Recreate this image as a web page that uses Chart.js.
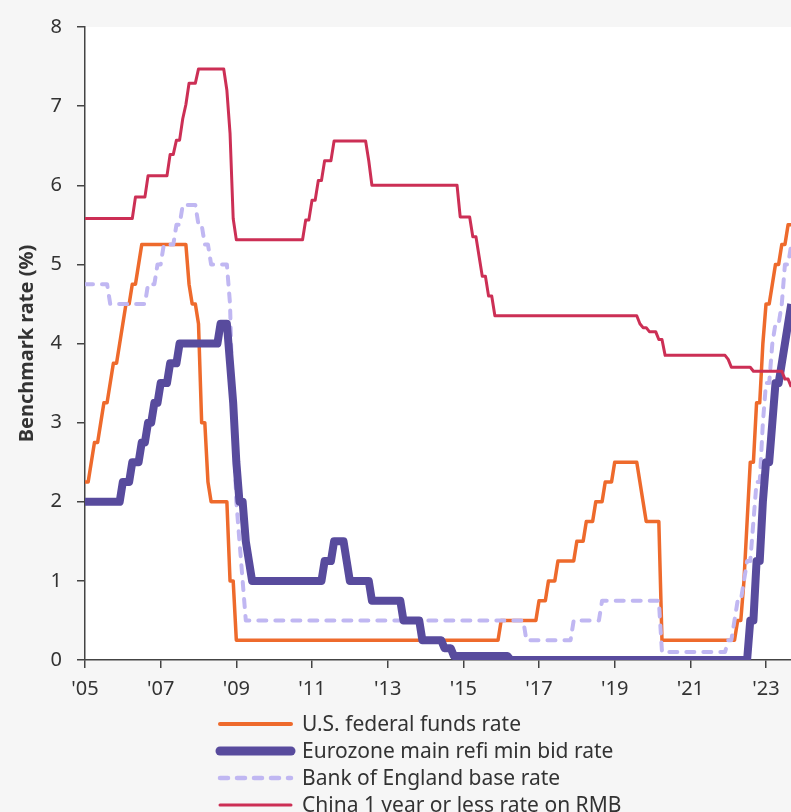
<!DOCTYPE html>
<html>
<head>
<meta charset="utf-8">
<script src="https://cdn.jsdelivr.net/npm/chart.js@4.4.1/dist/chart.umd.min.js"></script>
<style>
  html, body { margin: 0; padding: 0; background: #f6f6f6; }
  #wrap { width: 791px; height: 812px; position: relative; }
</style>
</head>
<body>
<div id="wrap"><canvas id="c"></canvas></div>
<script>
// Month-end observations, Dec 2004 through Sep 2023 (one value per month)
const firstMonth = { year: 2004, month: 12 };

const seriesLabels = [
  'U.S. federal funds rate',
  'Eurozone main refi min bid rate',
  'Bank of England base rate',
  'China 1 year or less rate on RMB'
];

const tickYears = [2005, 2007, 2009, 2011, 2013, 2015, 2017, 2019, 2021, 2023];
const yTicks = [0, 1, 2, 3, 4, 5, 6, 7, 8];

const usFedFunds = [
  2.25,
  2.25, 2.5, 2.75, 2.75, 3.0, 3.25, 3.25, 3.5, 3.75, 3.75, 4.0, 4.25,          // 2005
  4.5, 4.5, 4.75, 4.75, 5.0, 5.25, 5.25, 5.25, 5.25, 5.25, 5.25, 5.25,         // 2006
  5.25, 5.25, 5.25, 5.25, 5.25, 5.25, 5.25, 5.25, 4.75, 4.5, 4.5, 4.25,        // 2007
  3.0, 3.0, 2.25, 2.0, 2.0, 2.0, 2.0, 2.0, 2.0, 1.0, 1.0, 0.25,                // 2008
  0.25, 0.25, 0.25, 0.25, 0.25, 0.25, 0.25, 0.25, 0.25, 0.25, 0.25, 0.25,      // 2009
  0.25, 0.25, 0.25, 0.25, 0.25, 0.25, 0.25, 0.25, 0.25, 0.25, 0.25, 0.25,      // 2010
  0.25, 0.25, 0.25, 0.25, 0.25, 0.25, 0.25, 0.25, 0.25, 0.25, 0.25, 0.25,      // 2011
  0.25, 0.25, 0.25, 0.25, 0.25, 0.25, 0.25, 0.25, 0.25, 0.25, 0.25, 0.25,      // 2012
  0.25, 0.25, 0.25, 0.25, 0.25, 0.25, 0.25, 0.25, 0.25, 0.25, 0.25, 0.25,      // 2013
  0.25, 0.25, 0.25, 0.25, 0.25, 0.25, 0.25, 0.25, 0.25, 0.25, 0.25, 0.25,      // 2014
  0.25, 0.25, 0.25, 0.25, 0.25, 0.25, 0.25, 0.25, 0.25, 0.25, 0.25, 0.5,       // 2015
  0.5, 0.5, 0.5, 0.5, 0.5, 0.5, 0.5, 0.5, 0.5, 0.5, 0.5, 0.75,                 // 2016
  0.75, 0.75, 1.0, 1.0, 1.0, 1.25, 1.25, 1.25, 1.25, 1.25, 1.25, 1.5,          // 2017
  1.5, 1.5, 1.75, 1.75, 1.75, 2.0, 2.0, 2.0, 2.25, 2.25, 2.25, 2.5,            // 2018
  2.5, 2.5, 2.5, 2.5, 2.5, 2.5, 2.5, 2.25, 2.0, 1.75, 1.75, 1.75,              // 2019
  1.75, 1.75, 0.25, 0.25, 0.25, 0.25, 0.25, 0.25, 0.25, 0.25, 0.25, 0.25,      // 2020
  0.25, 0.25, 0.25, 0.25, 0.25, 0.25, 0.25, 0.25, 0.25, 0.25, 0.25, 0.25,      // 2021
  0.25, 0.25, 0.5, 0.5, 1.0, 1.75, 2.5, 2.5, 3.25, 3.25, 4.0, 4.5,             // 2022
  4.5, 4.75, 5.0, 5.0, 5.25, 5.25, 5.5, 5.5, 5.5                               // 2023
];

const eurozoneRefi = [
  2.0,
  2.0, 2.0, 2.0, 2.0, 2.0, 2.0, 2.0, 2.0, 2.0, 2.0, 2.0, 2.25,                 // 2005
  2.25, 2.25, 2.5, 2.5, 2.5, 2.75, 2.75, 3.0, 3.0, 3.25, 3.25, 3.5,            // 2006
  3.5, 3.5, 3.75, 3.75, 3.75, 4.0, 4.0, 4.0, 4.0, 4.0, 4.0, 4.0,               // 2007
  4.0, 4.0, 4.0, 4.0, 4.0, 4.0, 4.25, 4.25, 4.25, 3.75, 3.25, 2.5,             // 2008
  2.0, 2.0, 1.5, 1.25, 1.0, 1.0, 1.0, 1.0, 1.0, 1.0, 1.0, 1.0,                 // 2009
  1.0, 1.0, 1.0, 1.0, 1.0, 1.0, 1.0, 1.0, 1.0, 1.0, 1.0, 1.0,                  // 2010
  1.0, 1.0, 1.0, 1.25, 1.25, 1.25, 1.5, 1.5, 1.5, 1.5, 1.25, 1.0,              // 2011
  1.0, 1.0, 1.0, 1.0, 1.0, 1.0, 0.75, 0.75, 0.75, 0.75, 0.75, 0.75,            // 2012
  0.75, 0.75, 0.75, 0.75, 0.5, 0.5, 0.5, 0.5, 0.5, 0.5, 0.25, 0.25,            // 2013
  0.25, 0.25, 0.25, 0.25, 0.25, 0.15, 0.15, 0.15, 0.05, 0.05, 0.05, 0.05,      // 2014
  0.05, 0.05, 0.05, 0.05, 0.05, 0.05, 0.05, 0.05, 0.05, 0.05, 0.05, 0.05,      // 2015
  0.05, 0.05, 0, 0, 0, 0, 0, 0, 0, 0, 0, 0,                                    // 2016
  0, 0, 0, 0, 0, 0, 0, 0, 0, 0, 0, 0,                                          // 2017
  0, 0, 0, 0, 0, 0, 0, 0, 0, 0, 0, 0,                                          // 2018
  0, 0, 0, 0, 0, 0, 0, 0, 0, 0, 0, 0,                                          // 2019
  0, 0, 0, 0, 0, 0, 0, 0, 0, 0, 0, 0,                                          // 2020
  0, 0, 0, 0, 0, 0, 0, 0, 0, 0, 0, 0,                                          // 2021
  0, 0, 0, 0, 0, 0, 0.5, 0.5, 1.25, 1.25, 2.0, 2.5,                            // 2022
  2.5, 3.0, 3.5, 3.5, 3.75, 4.0, 4.25, 4.5, 4.5                                // 2023
];

const boeBase = [
  4.75,
  4.75, 4.75, 4.75, 4.75, 4.75, 4.75, 4.75, 4.5, 4.5, 4.5, 4.5, 4.5,           // 2005
  4.5, 4.5, 4.5, 4.5, 4.5, 4.5, 4.5, 4.75, 4.75, 4.75, 5.0, 5.0,               // 2006
  5.25, 5.25, 5.25, 5.25, 5.5, 5.5, 5.75, 5.75, 5.75, 5.75, 5.75, 5.5,         // 2007
  5.5, 5.25, 5.25, 5.0, 5.0, 5.0, 5.0, 5.0, 5.0, 4.5, 3.0, 2.0,                // 2008
  1.5, 1.0, 0.5, 0.5, 0.5, 0.5, 0.5, 0.5, 0.5, 0.5, 0.5, 0.5,                  // 2009
  0.5, 0.5, 0.5, 0.5, 0.5, 0.5, 0.5, 0.5, 0.5, 0.5, 0.5, 0.5,                  // 2010
  0.5, 0.5, 0.5, 0.5, 0.5, 0.5, 0.5, 0.5, 0.5, 0.5, 0.5, 0.5,                  // 2011
  0.5, 0.5, 0.5, 0.5, 0.5, 0.5, 0.5, 0.5, 0.5, 0.5, 0.5, 0.5,                  // 2012
  0.5, 0.5, 0.5, 0.5, 0.5, 0.5, 0.5, 0.5, 0.5, 0.5, 0.5, 0.5,                  // 2013
  0.5, 0.5, 0.5, 0.5, 0.5, 0.5, 0.5, 0.5, 0.5, 0.5, 0.5, 0.5,                  // 2014
  0.5, 0.5, 0.5, 0.5, 0.5, 0.5, 0.5, 0.5, 0.5, 0.5, 0.5, 0.5,                  // 2015
  0.5, 0.5, 0.5, 0.5, 0.5, 0.5, 0.5, 0.25, 0.25, 0.25, 0.25, 0.25,             // 2016
  0.25, 0.25, 0.25, 0.25, 0.25, 0.25, 0.25, 0.25, 0.25, 0.25, 0.5, 0.5,        // 2017
  0.5, 0.5, 0.5, 0.5, 0.5, 0.5, 0.5, 0.75, 0.75, 0.75, 0.75, 0.75,             // 2018
  0.75, 0.75, 0.75, 0.75, 0.75, 0.75, 0.75, 0.75, 0.75, 0.75, 0.75, 0.75,      // 2019
  0.75, 0.75, 0.1, 0.1, 0.1, 0.1, 0.1, 0.1, 0.1, 0.1, 0.1, 0.1,                // 2020
  0.1, 0.1, 0.1, 0.1, 0.1, 0.1, 0.1, 0.1, 0.1, 0.1, 0.1, 0.25,                 // 2021
  0.25, 0.5, 0.75, 0.75, 1.0, 1.25, 1.25, 1.75, 2.25, 2.25, 3.0, 3.5,          // 2022
  3.5, 4.0, 4.25, 4.25, 4.5, 5.0, 5.0, 5.25, 5.25                              // 2023
];

const chinaOneYear = [
  5.58,
  5.58, 5.58, 5.58, 5.58, 5.58, 5.58, 5.58, 5.58, 5.58, 5.58, 5.58, 5.58,      // 2005
  5.58, 5.58, 5.58, 5.85, 5.85, 5.85, 5.85, 6.12, 6.12, 6.12, 6.12, 6.12,      // 2006
  6.12, 6.12, 6.39, 6.39, 6.57, 6.57, 6.84, 7.02, 7.29, 7.29, 7.29, 7.47,      // 2007
  7.47, 7.47, 7.47, 7.47, 7.47, 7.47, 7.47, 7.47, 7.20, 6.66, 5.58, 5.31,      // 2008
  5.31, 5.31, 5.31, 5.31, 5.31, 5.31, 5.31, 5.31, 5.31, 5.31, 5.31, 5.31,      // 2009
  5.31, 5.31, 5.31, 5.31, 5.31, 5.31, 5.31, 5.31, 5.31, 5.56, 5.56, 5.81,      // 2010
  5.81, 6.06, 6.06, 6.31, 6.31, 6.31, 6.56, 6.56, 6.56, 6.56, 6.56, 6.56,      // 2011
  6.56, 6.56, 6.56, 6.56, 6.56, 6.31, 6.00, 6.00, 6.00, 6.00, 6.00, 6.00,      // 2012
  6.00, 6.00, 6.00, 6.00, 6.00, 6.00, 6.00, 6.00, 6.00, 6.00, 6.00, 6.00,      // 2013
  6.00, 6.00, 6.00, 6.00, 6.00, 6.00, 6.00, 6.00, 6.00, 6.00, 5.60, 5.60,      // 2014
  5.60, 5.60, 5.35, 5.35, 5.10, 4.85, 4.85, 4.60, 4.60, 4.35, 4.35, 4.35,      // 2015
  4.35, 4.35, 4.35, 4.35, 4.35, 4.35, 4.35, 4.35, 4.35, 4.35, 4.35, 4.35,      // 2016
  4.35, 4.35, 4.35, 4.35, 4.35, 4.35, 4.35, 4.35, 4.35, 4.35, 4.35, 4.35,      // 2017
  4.35, 4.35, 4.35, 4.35, 4.35, 4.35, 4.35, 4.35, 4.35, 4.35, 4.35, 4.35,      // 2018
  4.35, 4.35, 4.35, 4.35, 4.35, 4.35, 4.35, 4.25, 4.20, 4.20, 4.15, 4.15,      // 2019
  4.15, 4.05, 4.05, 3.85, 3.85, 3.85, 3.85, 3.85, 3.85, 3.85, 3.85, 3.85,      // 2020
  3.85, 3.85, 3.85, 3.85, 3.85, 3.85, 3.85, 3.85, 3.85, 3.85, 3.85, 3.80,      // 2021
  3.70, 3.70, 3.70, 3.70, 3.70, 3.70, 3.70, 3.65, 3.65, 3.65, 3.65, 3.65,      // 2022
  3.65, 3.65, 3.65, 3.65, 3.65, 3.55, 3.55, 3.45, 3.45                         // 2023
];

// time axis: month-end dates as decimal years (Dec 2004 month-end = 2005.0)
const monthDates = usFedFunds.map((_, i) => firstMonth.year + (firstMonth.month + i) / 12);
const toPoints = vals => vals.map((v, i) => ({ x: monthDates[i], y: v }));

const FONT = '"Noto Sans", "DejaVu Sans", sans-serif';
const TEXT = '#333333';
const AXIS = '#444444';

const bgPlugin = {
  id: 'bg',
  beforeDraw(chart) {
    const { ctx, chartArea: a } = chart;
    ctx.save();
    ctx.fillStyle = '#f6f6f6';
    ctx.fillRect(0, 0, chart.width, chart.height);
    ctx.fillStyle = '#ffffff';
    ctx.fillRect(a.left, a.top, a.right - a.left, a.bottom - a.top);
    ctx.restore();
  }
};

const legendPlugin = {
  id: 'stackLegend',
  afterDraw(chart) {
    const { ctx } = chart;
    const order = [0, 1, 2, 3];
    const x1 = 220, x2 = 291, tx = 302;
    const y0 = chart.chartArea.bottom + 64, dy = 27;
    ctx.save();
    order.forEach((di, row) => {
      const ds = chart.data.datasets[di];
      const y = y0 + row * dy;
      ctx.beginPath();
      ctx.strokeStyle = ds.borderColor;
      ctx.lineWidth = ds.legendWidth;
      ctx.lineCap = 'round';
      ctx.setLineDash(ds.borderDash || []);
      ctx.moveTo(x1, y);
      ctx.lineTo(x2, y);
      ctx.stroke();
      ctx.setLineDash([]);
      ctx.fillStyle = TEXT;
      ctx.font = '21px ' + FONT;
      ctx.textAlign = 'left';
      ctx.textBaseline = 'middle';
      ctx.fillText(ds.label, tx, y + 1);
    });
    ctx.restore();
  }
};

new Chart(document.getElementById('c'), {
  type: 'line',
  data: {
    datasets: [
      { label: seriesLabels[0], data: toPoints(usFedFunds), borderColor: '#ee6a2c', borderWidth: 3.5, legendWidth: 4, order: 3 },
      { label: seriesLabels[1], data: toPoints(eurozoneRefi), borderColor: '#584b9d', borderWidth: 8, legendWidth: 9, order: 1 },
      { label: seriesLabels[2], data: toPoints(boeBase), borderColor: '#c0b7f2', borderWidth: 4, legendWidth: 4.5, borderDash: [8, 9], borderCapStyle: 'round', order: 2 },
      { label: seriesLabels[3], data: toPoints(chinaOneYear), borderColor: '#cc2f55', borderWidth: 3, legendWidth: 3, order: 0 }
    ]
  },
  options: {
    responsive: true,
    maintainAspectRatio: false,
    animation: false,
    devicePixelRatio: 1,
    layout: { padding: { top: 21, right: 0, bottom: 102, left: 0 } },
    elements: {
      point: { radius: 0, hoverRadius: 0 },
      line: { tension: 0, borderJoinStyle: 'round', borderCapStyle: 'butt', fill: false }
    },
    plugins: {
      legend: { display: false },
      tooltip: { enabled: false }
    },
    scales: {
      x: {
        type: 'linear',
        min: 2005,
        max: 2023.66,
        afterBuildTicks: s => { s.ticks = tickYears.map(v => ({ value: v })); },
        afterFit: s => { s.height = 50; },
        ticks: {
          autoSkip: false, maxRotation: 0, padding: 9,
          color: TEXT, font: { family: FONT, size: 20 },
          callback: v => "'" + String(v).slice(2)
        },
        grid: { display: true, drawOnChartArea: false, drawTicks: true, tickLength: 8, color: AXIS, lineWidth: 1.5 },
        border: { display: true, color: AXIS, width: 1.5 }
      },
      y: {
        min: 0,
        max: 8,
        afterBuildTicks: s => { s.ticks = yTicks.map(v => ({ value: v })); },
        afterFit: s => { s.width = 85; },
        ticks: { padding: 15, color: TEXT, font: { family: FONT, size: 20 } },
        grid: { display: true, drawOnChartArea: false, drawTicks: true, tickLength: 8, color: AXIS, lineWidth: 1.5 },
        border: { display: true, color: AXIS, width: 1.5 },
        title: {
          display: true, text: 'Benchmark rate (%)', color: TEXT,
          font: { family: FONT, size: 20, weight: 'bold' },
          padding: { top: 15, bottom: 0 }
        }
      }
    }
  },
  plugins: [bgPlugin, legendPlugin]
});
</script>
</body>
</html>
